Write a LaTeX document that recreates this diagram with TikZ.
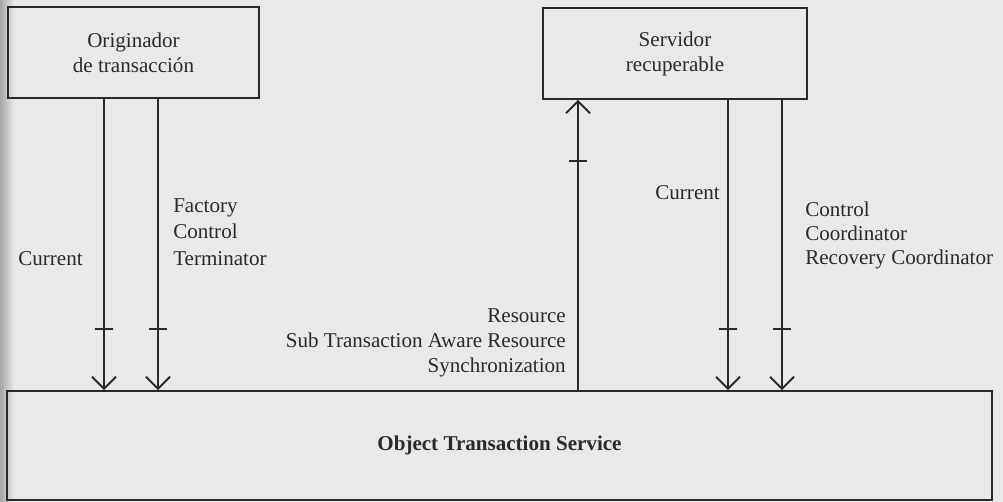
\documentclass[tikz,border=0pt]{standalone}
\usepackage{fontspec}
\setmainfont{Liberation Serif}
\usetikzlibrary{arrows.meta,decorations.markings}
\definecolor{paper}{RGB}{233,233,231}
\definecolor{ink}{RGB}{42,42,42}
\begin{document}
\begin{tikzpicture}[x=0.75pt,y=-0.75pt,
  every node/.style={text=ink, font=\fontsize{15.8}{18.75}\selectfont},
  box/.style={draw=ink, line width=1.4pt, inner sep=0pt, align=center},
  flow/.style={draw=ink, line width=1.4pt,
    -{Straight Barb[length=9pt,width=18pt,line width=1.4pt]},
    postaction={decorate},
    decoration={markings, mark=at position 0.79 with
      {\draw[ink, line width=1.2pt, -] (0,-6.75pt) -- (0,6.75pt);}}},
  lbl/.style={inner sep=0pt}]

% page
\fill[paper] (0,0) rectangle (1003,502);
\shade[left color=black!35, right color=paper, draw=none] (0,0) rectangle (14,502);
\useasboundingbox (0,0) rectangle (1003,502);

% boxes
\node[box, minimum width=188.25pt, minimum height=68.25pt] (orig) at (133.5,52.5)
  {Originador\\de transacción};
\node[box, minimum width=198pt, minimum height=68.25pt] (serv) at (675,53.5)
  {Servidor\\recuperable};
\node[box, minimum width=738.75pt, minimum height=81.75pt,
      font=\fontsize{15.8}{18.75}\selectfont\bfseries] (ots) at (499.5,445.5)
  {Object Transaction Service};

% connector columns
\coordinate (a1) at (104,0);
\coordinate (a2) at (158,0);
\coordinate (b1) at (578,0);
\coordinate (c1) at (728,0);
\coordinate (c2) at (782,0);

\draw[flow] (orig.south -| a1) -- (ots.north -| a1);
\draw[flow] (orig.south -| a2) -- (ots.north -| a2);
\draw[flow] (ots.north -| b1) -- (serv.south -| b1);
\draw[flow] (serv.south -| c1) -- (ots.north -| c1);
\draw[flow] (serv.south -| c2) -- (ots.north -| c2);

% interface labels
\node[lbl, anchor=base east] (curL) at (83,266) {Current};
\node[lbl, anchor=base west] (fac) at (173,212.5) {Factory};
\node[lbl, anchor=base west] (ctlL) at (173,239) {Control};
\node[lbl, anchor=base west] (term) at (173,266) {Terminator};

\node[lbl, anchor=base east] (curR) at (720,200) {Current};

\node[lbl, anchor=base east] (res) at (566,323) {Resource};
\node[lbl, anchor=base east] (sub) at (566,348) {Sub Transaction Aware Resource};
\node[lbl, anchor=base east] (syn) at (566,373) {Synchronization};

\node[lbl, anchor=base west] (ctlR) at (805,217) {Control};
\node[lbl, anchor=base west] (coor) at (805,241) {Coordinator};
\node[lbl, anchor=base west] (rec) at (805,265) {Recovery Coordinator};
\end{tikzpicture}
\end{document}
